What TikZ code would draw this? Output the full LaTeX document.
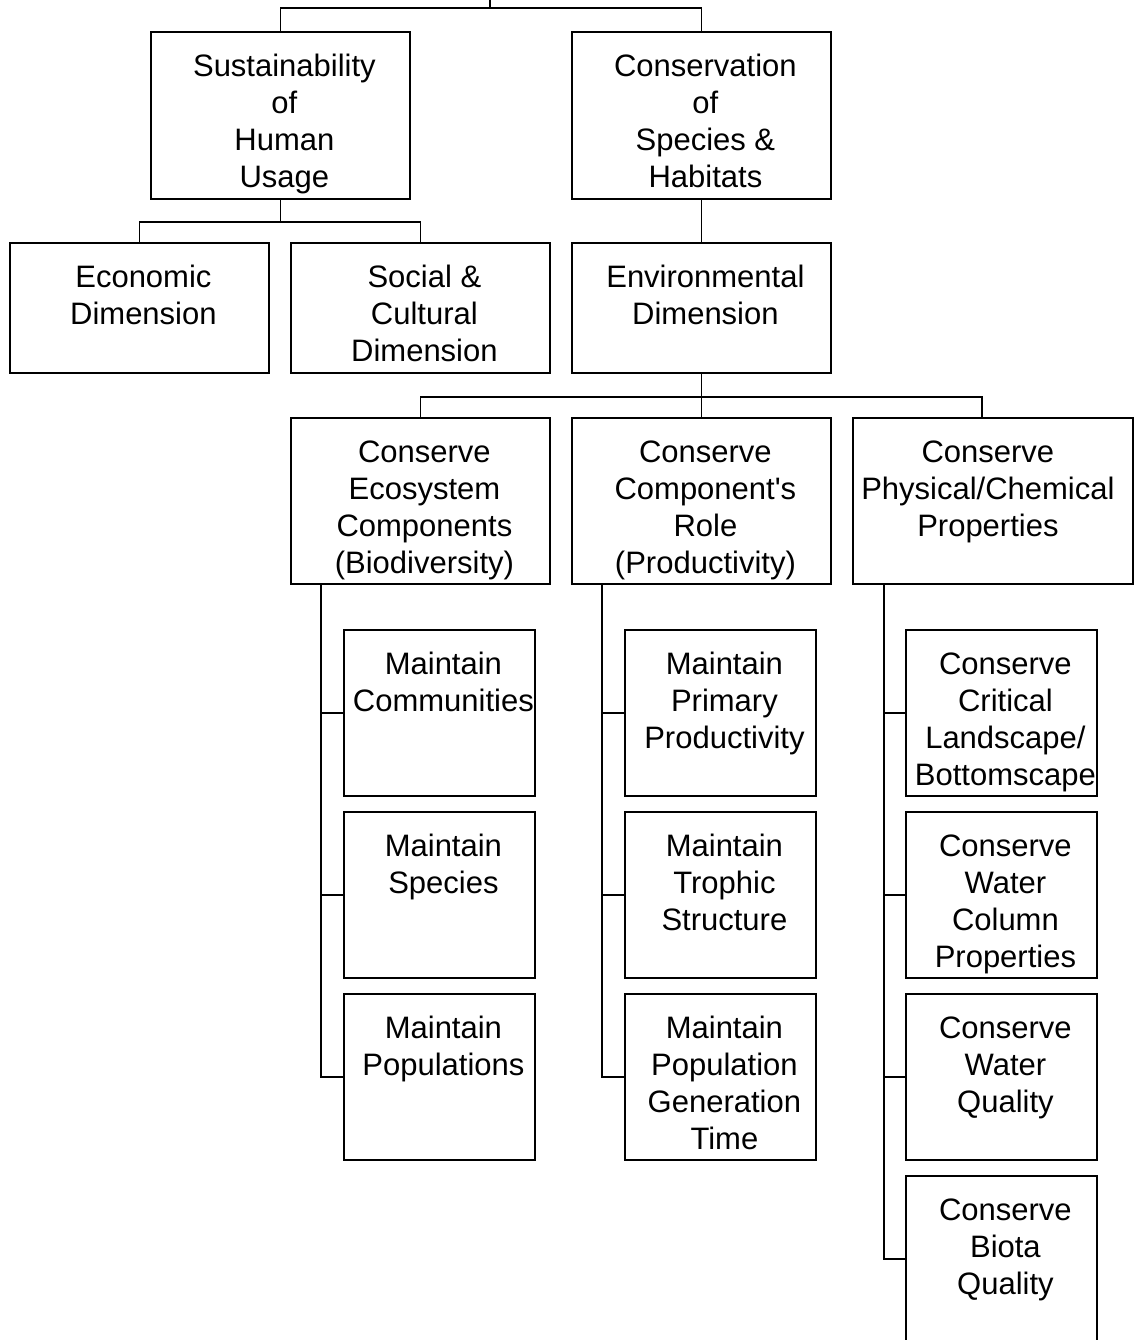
\documentclass[tikz,border=0pt]{standalone}
\usepackage{fontspec}
\newfontfamily\arialf{Liberation Sans}
\newcommand\bxtext[5]{\parbox[c][#2][t]{#1}{\centering\leftskip=#3 plus 1fil\rightskip=#4 plus 1fil\relax\rule{0pt}{45pt}#5}}
\tikzset{
  box/.style={draw, line width=1.8pt, inner sep=0pt, anchor=north west, font=\arialf\fontsize{31}{37}\selectfont},
  link/.style={draw, line width=1.8pt},
}
\begin{document}
\begin{tikzpicture}[x=1pt,y=-1pt]
\clip (0,0) rectangle (1134,1340);
\fill[white] (0,0) rectangle (1134,1340);
% top level
\node[box] (A) at (150,31) {\bxtext{259pt}{167pt}{8pt}{0pt}{Sustainability\\of\\Human\\Usage}};
\node[box] (B) at (571,31) {\bxtext{259pt}{167pt}{8pt}{0pt}{Conservation\\of\\Species \&\\Habitats}};
% dimensions
\node[box] (C) at (9,242) {\bxtext{259pt}{130pt}{8pt}{0pt}{Economic\\Dimension}};
\node[box] (D) at (290,242) {\bxtext{259pt}{130pt}{8pt}{0pt}{Social \&\\Cultural\\Dimension}};
\node[box] (E) at (571,242) {\bxtext{259pt}{130pt}{8pt}{0pt}{Environmental\\Dimension}};
% environmental branches
\node[box] (F) at (290,417) {\bxtext{259pt}{166pt}{8pt}{0pt}{Conserve\\Ecosystem\\Components\\(Biodiversity)}};
\node[box] (G) at (571,417) {\bxtext{259pt}{166pt}{8pt}{0pt}{Conserve\\Component's\\Role\\(Productivity)}};
\node[box] (H) at (852,417) {\bxtext{280pt}{166pt}{0pt}{10pt}{Conserve\\Physical/Chemical\\Properties}};
% sub boxes F
\node[box] (F1) at (343,629) {\bxtext{191pt}{166pt}{8pt}{0pt}{Maintain\\Communities}};
\node[box] (F2) at (343,811) {\bxtext{191pt}{166pt}{8pt}{0pt}{Maintain\\Species}};
\node[box] (F3) at (343,993) {\bxtext{191pt}{166pt}{8pt}{0pt}{Maintain\\Populations}};
% sub boxes G
\node[box] (G1) at (624,629) {\bxtext{191pt}{166pt}{8pt}{0pt}{Maintain\\Primary\\Productivity}};
\node[box] (G2) at (624,811) {\bxtext{191pt}{166pt}{8pt}{0pt}{Maintain\\Trophic\\Structure}};
\node[box] (G3) at (624,993) {\bxtext{191pt}{166pt}{8pt}{0pt}{Maintain\\Population\\Generation\\Time}};
% sub boxes H
\node[box] (H1) at (905,629) {\bxtext{191pt}{166pt}{8pt}{0pt}{Conserve\\Critical\\Landscape/\\Bottomscape}};
\node[box] (H2) at (905,811) {\bxtext{191pt}{166pt}{8pt}{0pt}{Conserve\\Water\\Column\\Properties}};
\node[box] (H3) at (905,993) {\bxtext{191pt}{166pt}{8pt}{0pt}{Conserve\\Water\\Quality}};
\node[box] (H4) at (905,1175) {\bxtext{191pt}{166pt}{8pt}{0pt}{Conserve\\Biota\\Quality}};
% connectors
\coordinate (top) at (490,0);
\coordinate (topj) at (490,8);
\draw[link] (top) -- (topj);
\draw[link] (A.north) |- (topj) -| (B.north);
\path (A.south) ++(0,22) coordinate (jA);
\draw[link] (A.south) -- (jA);
\draw[link] (C.north) |- (jA) -| (D.north);
\draw[link] (B.south) -- (E.north);
\path (E.south) ++(0,23) coordinate (jE);
\coordinate (hN) at (982,417);
\draw[link] (E.south) -- (jE) -- (G.north);
\draw[link] (F.north) |- (jE) -| (hN);
% buses
\coordinate (fb) at (321,583);
\coordinate (gb) at (602,583);
\coordinate (hb) at (884,583);
\draw[link] (fb) |- (F1.west) (fb) |- (F2.west) (fb) |- (F3.west);
\draw[link] (gb) |- (G1.west) (gb) |- (G2.west) (gb) |- (G3.west);
\draw[link] (hb) |- (H1.west) (hb) |- (H2.west) (hb) |- (H3.west) (hb) |- (H4.west);
\end{tikzpicture}
\end{document}
